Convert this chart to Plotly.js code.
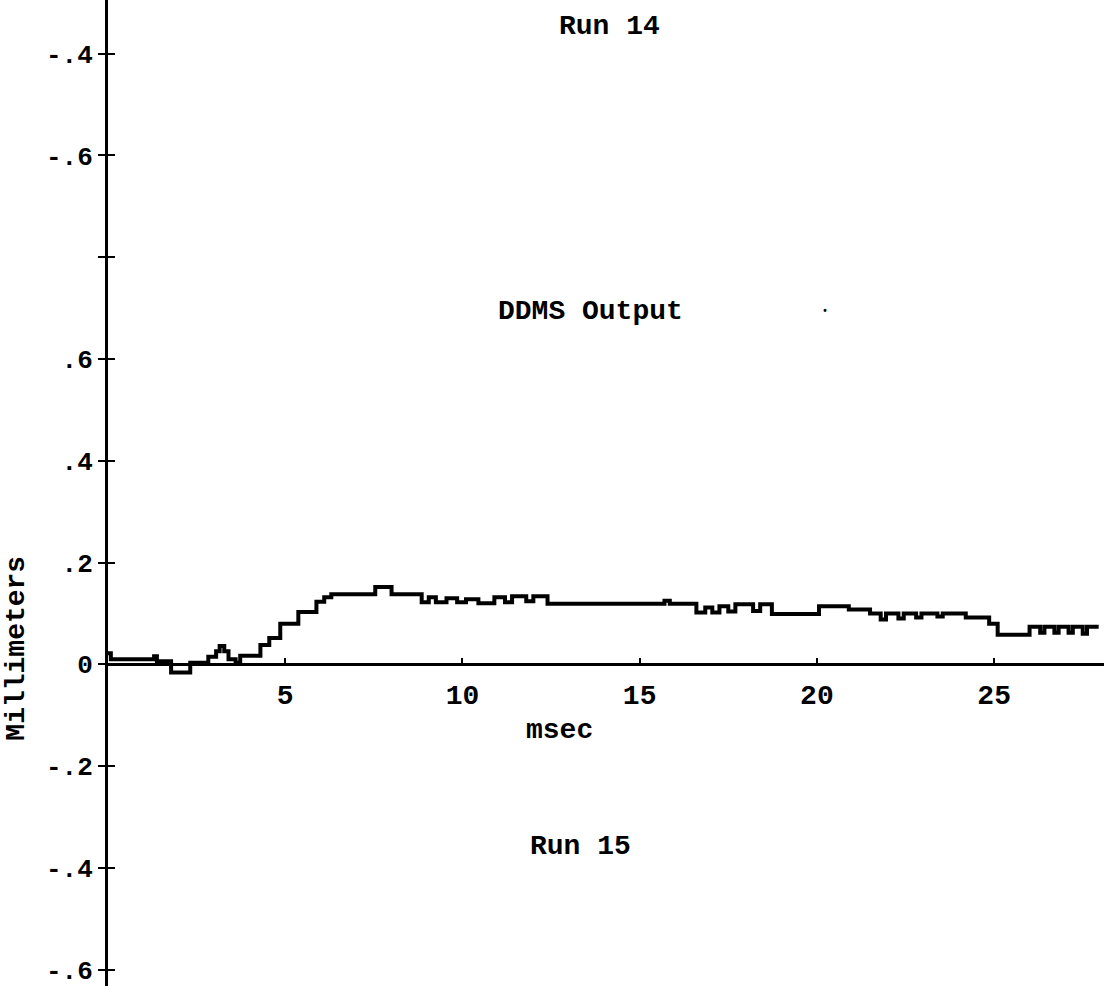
<!DOCTYPE html>
<html>
<head>
<meta charset="utf-8">
<script src="https://cdn.plot.ly/plotly-3.0.1.min.js"></script>
<style>html,body{margin:0;padding:0;background:#fff;}#chart{width:1104px;height:986px;}</style>
</head>
<body>
<div id="chart"></div>
<script>
// Run 15 DDMS output (msec, millimeters)
const timeMs = [0.00,0.08,1.30,1.38,1.78,2.32,2.83,3.05,3.15,3.28,3.40,3.60,3.73,4.30,4.55,4.86,5.37,5.88,6.10,6.30,7.54,8.00,8.85,9.05,9.25,9.55,9.85,10.10,10.45,10.90,11.20,11.40,11.80,12.00,12.40,15.70,15.85,16.60,16.85,17.05,17.25,17.50,17.70,18.20,18.40,18.73,20.06,20.90,21.50,21.80,21.95,22.30,22.45,22.80,22.95,23.40,23.55,24.20,24.86,25.10,26.00,26.30,26.42,26.70,26.82,27.10,27.22,27.50,27.62,27.95];
const ddmsMm = [0.022,0.010,0.016,0.006,-0.016,0.003,0.015,0.026,0.036,0.026,0.010,0.003,0.017,0.038,0.052,0.080,0.103,0.123,0.132,0.138,0.152,0.138,0.122,0.132,0.122,0.130,0.122,0.128,0.120,0.132,0.122,0.134,0.124,0.134,0.119,0.125,0.119,0.102,0.112,0.102,0.114,0.104,0.118,0.105,0.118,0.099,0.114,0.108,0.100,0.088,0.100,0.090,0.100,0.092,0.100,0.094,0.100,0.092,0.080,0.058,0.074,0.062,0.074,0.062,0.074,0.062,0.074,0.060,0.074,0.074];

// Y axis: lower panel (Run 15) continues upward into the upper panel (Run 14) labels
const yTickVals = [-0.6,-0.4,-0.2,0,0.2,0.4,0.6,0.8,1.0,1.2];
const yTickText = ['-.6','-.4','-.2','0','.2','.4','.6','','-.6','-.4'];
const xTickVals = [5,10,15,20,25];
const xTickText = ['5','10','15','20','25'];

const yRange = [-0.632, 1.3055];
const xRange = [0, 28.1];
const FONT = '"Liberation Mono", "Courier New", monospace';
const textFont = {family: FONT, size: 28, color: '#000', weight: 'bold'};
const tickFont = {family: FONT, size: 26, color: '#000', weight: 'bold'};

const trace = {
  x: timeMs, y: ddmsMm, type: 'scatter', mode: 'lines',
  line: {color: '#000', width: 4, shape: 'hv'},
  hoverinfo: 'skip', showlegend: false
};
// invisible copy on a second y axis that carries the tick marks of the y axis
const tickCarrier = {
  x: timeMs, y: ddmsMm, yaxis: 'y2', type: 'scatter', mode: 'lines',
  line: {color: 'rgba(0,0,0,0)', width: 0, shape: 'hv'},
  showlegend: false, hoverinfo: 'skip'
};

function ann(text, x, y, extra) {
  return Object.assign({text: text, xref: 'paper', yref: 'paper', x: x, y: y,
    xanchor: 'center', yanchor: 'middle', showarrow: false, font: textFont}, extra || {});
}

const layout = {
  width: 1104, height: 986,
  margin: {l: 108, r: 0, t: 0, b: 0},
  paper_bgcolor: '#fff', plot_bgcolor: '#fff',
  showlegend: false,
  font: {family: FONT, color: '#000', size: 28, weight: 'bold'},
  xaxis: {
    range: xRange, anchor: 'free',
    position: (0 - yRange[0]) / (yRange[1] - yRange[0]),
    showline: true, linecolor: '#000', linewidth: 3,
    showgrid: false, zeroline: false,
    tickmode: 'array', tickvals: xTickVals, ticktext: xTickText,
    ticks: 'inside', ticklen: 5, tickwidth: 2, tickcolor: '#000',
    ticklabelstandoff: 4,
    tickfont: textFont
  },
  yaxis: {
    range: yRange, anchor: 'x', side: 'left',
    showline: true, linecolor: '#000', linewidth: 3,
    showgrid: false, zeroline: false,
    tickmode: 'array', tickvals: yTickVals, ticktext: yTickText,
    ticks: 'outside', ticklen: 7, tickwidth: 2, tickcolor: '#000',
    ticklabeloverflow: 'allow',
    tickfont: tickFont
  },
  yaxis2: {
    range: yRange, overlaying: 'y', anchor: 'x', side: 'left',
    showline: false, showgrid: false, zeroline: false,
    tickmode: 'array', tickvals: yTickVals,
    ticks: 'inside', ticklen: 7, tickwidth: 2, tickcolor: '#000',
    showticklabels: false
  },
  annotations: [
    ann('Run 14', 0.504, 0.9736),
    ann('DDMS Output', 0.484, 0.6836),
    ann('•', 0.720, 0.684, {font: {family: FONT, size: 10, color: '#000'}}),
    ann('msec', 0.453, 0.2596),
    ann('Run 15', 0.474, 0.1410),
    ann('Millimeters', -0.0915, 0.343, {textangle: -90})
  ]
};

Plotly.newPlot('chart', [trace, tickCarrier], layout, {staticPlot: true, displayModeBar: false});
</script>
</body>
</html>
